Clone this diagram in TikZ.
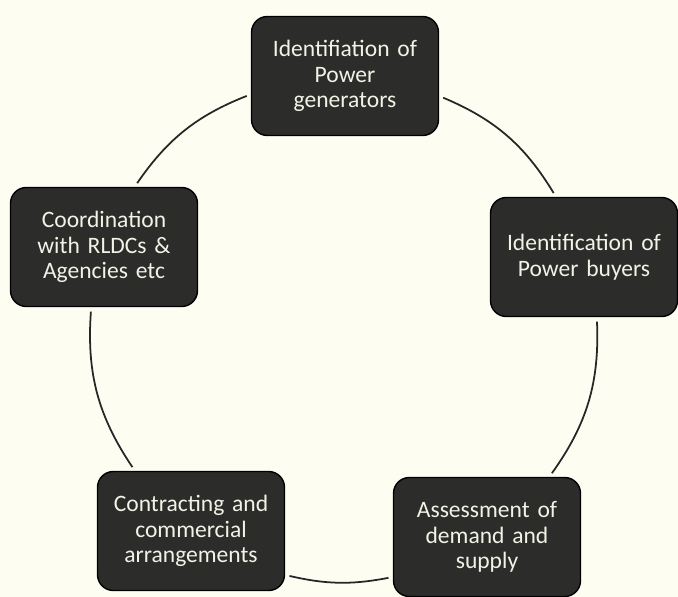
\documentclass[tikz,border=0pt]{standalone}
\usepackage{fontspec}
\setmainfont{Carlito}
\definecolor{paper}{RGB}{253,253,242}
\definecolor{boxgray}{RGB}{44,44,42}
\definecolor{boxtext}{RGB}{242,242,230}
\begin{document}
\begin{tikzpicture}
		% Styles for the stage boxes and the circle arcs
		[x=0.02cm, y=-0.02cm,
		stage/.style={fill=boxgray, draw=black, line width=0.8pt, rounded corners=9pt,
			text=boxtext, minimum width=3.74cm, minimum height=2.38cm,
			text width=3.5cm, align=center, font=\fontsize{13.4}{14.6}\selectfont},
		link/.style={black!85, line width=1pt, shorten <=2.5pt, shorten >=2.5pt}]
	
		% Page area
		\useasboundingbox[fill=paper] (0,0) rectangle (678,597);
		
		% The five stages, clockwise from the top
		\node[stage] (gen) at (345,76) {Identifiation of\\Power\\generators};
		\node[stage] (buy) at (584,257) {Identification of\\Power buyers};
		\node[stage] (dem) at (487,537) {Assessment of\\demand and\\supply};
		\node[stage] (con) at (191,531) {Contracting and\\commercial\\arrangements};
		\node[stage] (rldc) at (104,247) {Coordination\\with RLDCs \&\\Agencies etc};
		
		% Arcs of the cycle, leaving each box near the circle
		\draw[link] (gen.-12) to[bend left=18] (buy.115);
		\draw[link] (buy.-78) to[bend left=19] (dem.44);
		\draw[link] (dem.-157) to[bend left=12] (con.-25);
		\draw[link] (con.133) to[bend left=19] (rldc.-102);
		\draw[link] (rldc.63) to[bend left=17] (gen.-169);
	\end{tikzpicture}
\end{document}
